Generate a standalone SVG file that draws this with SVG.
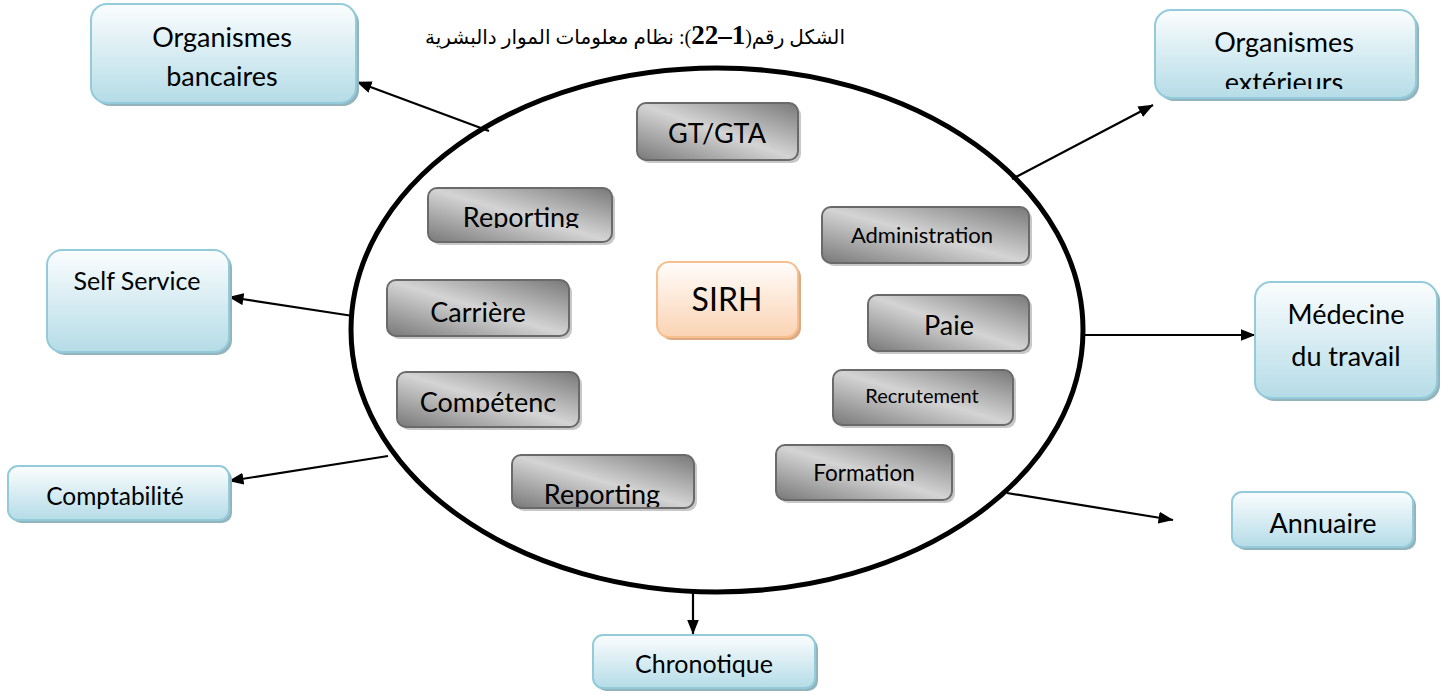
<svg xmlns="http://www.w3.org/2000/svg" width="1446" height="695" viewBox="0 0 1446 695">
  <defs>
    <linearGradient id="gBlue" x1="0" y1="0" x2="0" y2="1">
      <stop offset="0" stop-color="#fbfdfe"/>
      <stop offset="1" stop-color="#b5dce7"/>
    </linearGradient>
    <linearGradient id="gGray" x1="0" y1="1" x2="1" y2="0">
      <stop offset="0" stop-color="#787878"/>
      <stop offset="0.5" stop-color="#d4d4d4"/>
      <stop offset="1" stop-color="#787878"/>
    </linearGradient>
    <linearGradient id="gOrange" x1="0" y1="0" x2="0" y2="1">
      <stop offset="0" stop-color="#fffdfb"/>
      <stop offset="1" stop-color="#fbd3b3"/>
    </linearGradient>
    <marker id="arrow" markerWidth="15" markerHeight="12" refX="14.5" refY="6" orient="auto" markerUnits="userSpaceOnUse" viewBox="0 0 15 12">
      <path d="M0,0 L15,6 L0,12 Z" fill="#000"/>
    </marker>
    <clipPath id="clipExt"><rect x="1150" y="0" width="280" height="89"/></clipPath>
    <clipPath id="clipRep1"><rect x="420" y="180" width="200" height="48"/></clipPath>
    <clipPath id="clipComp"><rect x="390" y="365" width="200" height="48"/></clipPath>
    <clipPath id="clipRep2"><rect x="505" y="450" width="200" height="57"/></clipPath>
  </defs>
  <style>
    .outer { fill: url(#gBlue); stroke: #93cbdb; stroke-width: 2; }
    .outerSh { fill: #93b3bd; }
    .inner { fill: url(#gGray); stroke: #6a6a6a; stroke-width: 2; }
    .innerSh { fill: #c8c8c8; }
    .core { fill: url(#gOrange); stroke: #f8bf8e; stroke-width: 2; }
    .coreSh { fill: #dcab84; }
    text { font-family: Lato, "Liberation Sans", sans-serif; fill: #000; text-anchor: middle; }
    .conn { stroke: #000; stroke-width: 2.2; fill: none; marker-end: url(#arrow); }
    .title { font-family: "Liberation Serif", "DejaVu Sans", serif; font-size: 20px; }
  </style>

  <!-- caption -->
  <text class="title" x="635" y="44" direction="rtl" unicode-bidi="embed">الشكل رقم(<tspan font-weight="bold" font-size="27">1–22</tspan>): نظام معلومات الموار دالبشرية</text>

  <!-- main system boundary -->
  <ellipse id="boundary" cx="717" cy="330" rx="366" ry="262" fill="none" stroke="#000" stroke-width="5"/>

  <!-- connectors -->
  <g id="connectors">
    <line class="conn" x1="489" y1="131" x2="357" y2="82"/>
    <line class="conn" x1="1012" y1="179" x2="1153" y2="105"/>
    <line class="conn" x1="353" y1="316" x2="229" y2="297"/>
    <line class="conn" x1="388" y1="456" x2="229" y2="481"/>
    <line class="conn" x1="1083" y1="335" x2="1255" y2="335"/>
    <line class="conn" x1="1007" y1="493" x2="1173" y2="520"/>
    <line class="conn" x1="693" y1="591" x2="693" y2="634"/>
  </g>

  <!-- external systems -->
  <g id="organismes-bancaires">
    <rect class="outerSh" x="94" y="7" width="265" height="99" rx="16"/>
    <rect class="outer" x="91" y="4" width="265" height="99" rx="16"/>
    <text x="222" y="47" font-size="27">Organismes</text>
    <text x="222" y="86" font-size="27">bancaires</text>
  </g>

  <g id="organismes-exterieurs">
    <rect class="outerSh" x="1158" y="13" width="261" height="88" rx="16"/>
    <rect class="outer" x="1155" y="10" width="261" height="88" rx="16"/>
    <text x="1284" y="52" font-size="27">Organismes</text>
    <text x="1284" y="92" font-size="27" clip-path="url(#clipExt)">extérieurs</text>
  </g>

  <g id="self-service">
    <rect class="outerSh" x="50" y="253" width="182" height="102" rx="15"/>
    <rect class="outer" x="47" y="250" width="182" height="102" rx="15"/>
    <text x="137" y="290" font-size="25">Self Service</text>
  </g>

  <g id="comptabilite">
    <rect class="outerSh" x="11" y="469" width="221" height="54" rx="10"/>
    <rect class="outer" x="8" y="466" width="221" height="54" rx="10"/>
    <text x="115" y="505" font-size="24.5">Comptabilité</text>
  </g>

  <g id="medecine-du-travail">
    <rect class="outerSh" x="1258" y="285" width="182" height="116" rx="16"/>
    <rect class="outer" x="1255" y="282" width="182" height="116" rx="16"/>
    <text x="1346" y="324" font-size="27">Médecine</text>
    <text x="1346" y="366" font-size="27">du travail</text>
  </g>

  <g id="annuaire">
    <rect class="outerSh" x="1235" y="495" width="181" height="55" rx="10"/>
    <rect class="outer" x="1232" y="492" width="181" height="55" rx="10"/>
    <text x="1323" y="533" font-size="27">Annuaire</text>
  </g>

  <g id="chronotique">
    <rect class="outerSh" x="596" y="638" width="222" height="53" rx="10"/>
    <rect class="outer" x="593" y="635" width="222" height="53" rx="10"/>
    <text x="704" y="673" font-size="25">Chronotique</text>
  </g>

  <!-- HR modules -->
  <g id="gt-gta">
    <rect class="innerSh" x="640" y="106" width="161" height="57" rx="9"/>
    <rect class="inner" x="637" y="103" width="161" height="57" rx="9"/>
    <text x="717" y="143" font-size="27">GT/GTA</text>
  </g>

  <g id="reporting-1">
    <rect class="innerSh" x="431" y="191" width="184" height="54" rx="9"/>
    <rect class="inner" x="428" y="188" width="184" height="54" rx="9"/>
    <text x="521" y="227" font-size="27" clip-path="url(#clipRep1)">Reporting</text>
  </g>

  <g id="carriere">
    <rect class="innerSh" x="390" y="283" width="182" height="56" rx="9"/>
    <rect class="inner" x="387" y="280" width="182" height="56" rx="9"/>
    <text x="478" y="322" font-size="27">Carrière</text>
  </g>

  <g id="competences">
    <rect class="innerSh" x="400" y="375" width="182" height="55" rx="9"/>
    <rect class="inner" x="397" y="372" width="182" height="55" rx="9"/>
    <text x="488" y="412" font-size="27" clip-path="url(#clipComp)">Compétenc</text>
  </g>

  <g id="reporting-2">
    <rect class="innerSh" x="515" y="458" width="182" height="53" rx="9"/>
    <rect class="inner" x="512" y="455" width="182" height="53" rx="9"/>
    <text x="602" y="504" font-size="27" clip-path="url(#clipRep2)">Reporting</text>
  </g>

  <g id="sirh">
    <rect class="coreSh" x="660" y="265" width="141" height="75" rx="12"/>
    <rect class="core" x="657" y="262" width="141" height="75" rx="12"/>
    <text x="727" y="311" font-size="32">SIRH</text>
  </g>

  <g id="administration">
    <rect class="innerSh" x="825" y="210" width="207" height="56" rx="9"/>
    <rect class="inner" x="822" y="207" width="207" height="56" rx="9"/>
    <text x="922" y="243" font-size="22">Administration</text>
  </g>

  <g id="paie">
    <rect class="innerSh" x="871" y="298" width="161" height="56" rx="9"/>
    <rect class="inner" x="868" y="295" width="161" height="56" rx="9"/>
    <text x="949" y="335" font-size="27">Paie</text>
  </g>

  <g id="recrutement">
    <rect class="innerSh" x="836" y="373" width="180" height="55" rx="9"/>
    <rect class="inner" x="833" y="370" width="180" height="55" rx="9"/>
    <text x="922" y="403" font-size="20">Recrutement</text>
  </g>

  <g id="formation">
    <rect class="innerSh" x="779" y="448" width="176" height="55" rx="9"/>
    <rect class="inner" x="776" y="445" width="176" height="55" rx="9"/>
    <text x="864" y="481" font-size="22.5">Formation</text>
  </g>
</svg>
